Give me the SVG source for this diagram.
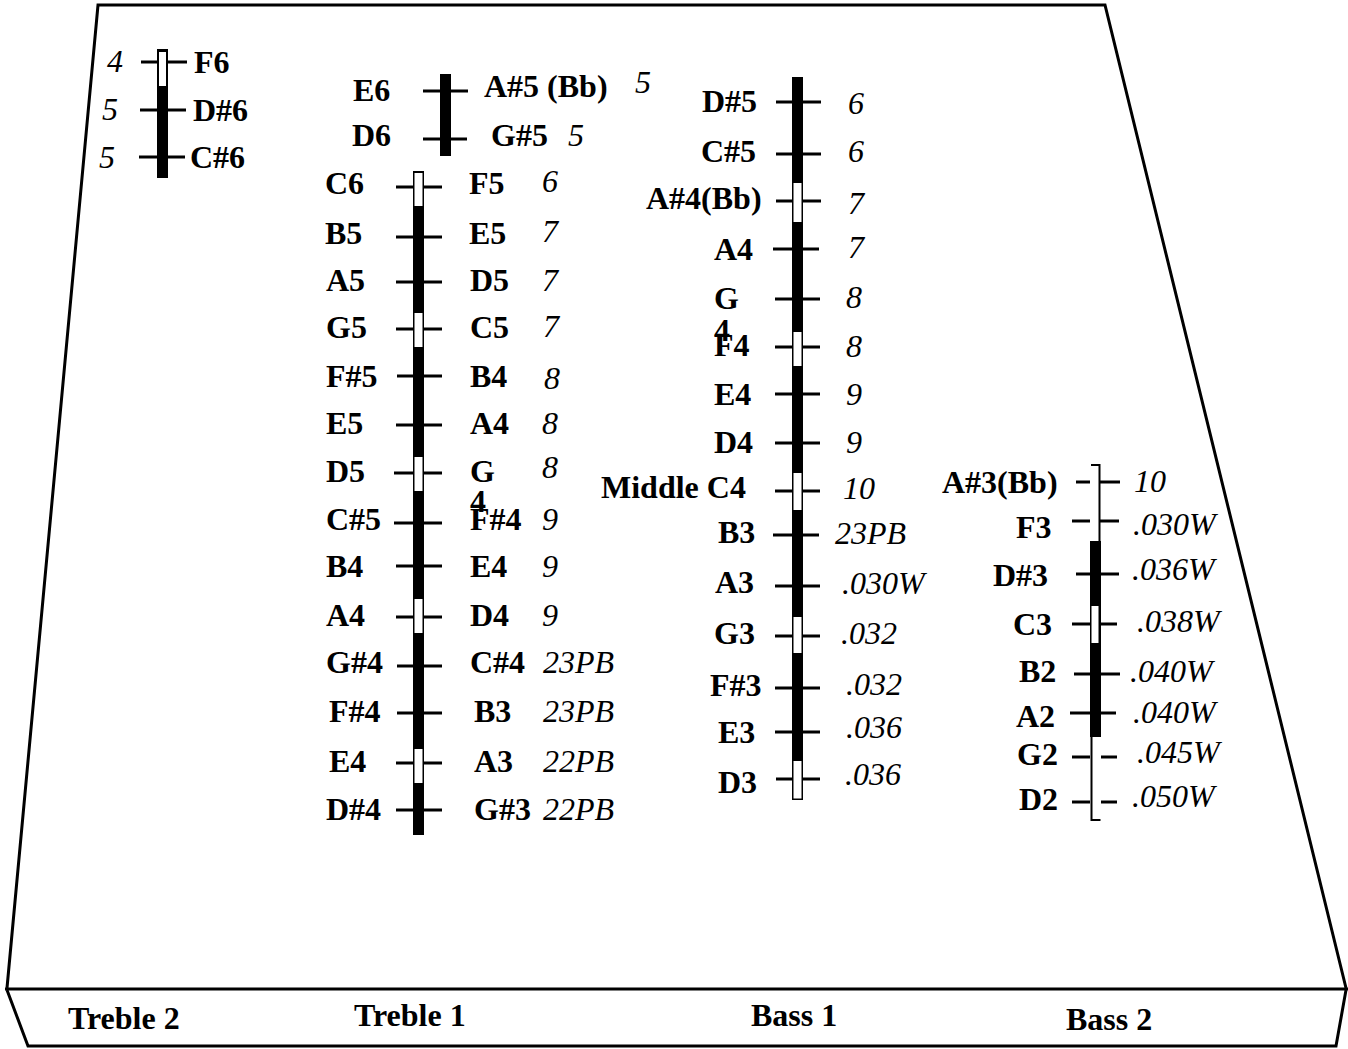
<svg xmlns="http://www.w3.org/2000/svg" width="1348" height="1049" viewBox="0 0 1348 1049">
<style>
.n{font-family:"Liberation Serif",serif;font-weight:bold;font-size:32px;fill:#000}
.g{font-family:"Liberation Serif",serif;font-style:italic;font-size:32px;fill:#000}
.t{stroke:#000;stroke-width:3;fill:none}
.f{stroke:#000;stroke-width:3;fill:none;stroke-linejoin:miter}
.thin{stroke:#000;stroke-width:2;fill:none}
.b{fill:#000}
.w{fill:#fff}
</style>
<rect width="1348" height="1049" fill="#fff"/>
<g id="frame">
<polyline class="f" points="7,988 98,5 1105,5 1346,988"/>
<line class="f" x1="5" y1="989" x2="1348" y2="989"/>
<polyline class="f" points="7,990 28,1046 1336,1046 1346,990"/>
<text class="n" x="68" y="1029">Treble 2</text>
<text class="n" x="354" y="1026">Treble 1</text>
<text class="n" x="751" y="1026">Bass 1</text>
<text class="n" x="1066" y="1030">Bass 2</text>
</g>
<g id="connectors">
<g id="t2-ticks">
<line class="t" x1="141" y1="62" x2="187" y2="62"/>
<line class="t" x1="140" y1="110" x2="186" y2="110"/>
<line class="t" x1="139" y1="157" x2="185" y2="157"/>
</g>
<g id="t1top-ticks">
<line class="t" x1="423" y1="91" x2="468" y2="91"/>
<line class="t" x1="423" y1="139" x2="467" y2="139"/>
</g>
<g id="t1-ticks">
<line class="t" x1="396" y1="187" x2="442" y2="187"/>
<line class="t" x1="396" y1="237" x2="442" y2="237"/>
<line class="t" x1="396" y1="282" x2="442" y2="282"/>
<line class="t" x1="396" y1="329" x2="442" y2="329"/>
<line class="t" x1="397" y1="376" x2="442" y2="376"/>
<line class="t" x1="396" y1="425" x2="442" y2="425"/>
<line class="t" x1="394" y1="473" x2="442" y2="473"/>
<line class="t" x1="394" y1="523" x2="442" y2="523"/>
<line class="t" x1="396" y1="566" x2="442" y2="566"/>
<line class="t" x1="396" y1="617" x2="442" y2="617"/>
<line class="t" x1="397" y1="666" x2="442" y2="666"/>
<line class="t" x1="397" y1="713" x2="442" y2="713"/>
<line class="t" x1="396" y1="763" x2="442" y2="763"/>
<line class="t" x1="396" y1="810" x2="442" y2="810"/>
</g>
<g id="b1-ticks">
<line class="t" x1="776" y1="102" x2="821" y2="102"/>
<line class="t" x1="776" y1="154" x2="821" y2="154"/>
<line class="t" x1="776" y1="201" x2="821" y2="201"/>
<line class="t" x1="773" y1="249" x2="819" y2="249"/>
<line class="t" x1="775" y1="299" x2="820" y2="299"/>
<line class="t" x1="775" y1="347" x2="820" y2="347"/>
<line class="t" x1="775" y1="394" x2="820" y2="394"/>
<line class="t" x1="775" y1="443" x2="820" y2="443"/>
<line class="t" x1="775" y1="491" x2="820" y2="491"/>
<line class="t" x1="773" y1="535" x2="819" y2="535"/>
<line class="t" x1="775" y1="586" x2="820" y2="586"/>
<line class="t" x1="775" y1="636" x2="820" y2="636"/>
<line class="t" x1="775" y1="688" x2="820" y2="688"/>
<line class="t" x1="775" y1="732" x2="820" y2="732"/>
<line class="t" x1="776" y1="779" x2="820" y2="779"/>
</g>
<g id="b2-ticks">
<line class="t" x1="1076" y1="482" x2="1090" y2="482"/>
<line class="t" x1="1100" y1="482" x2="1120" y2="482"/>
<line class="t" x1="1072" y1="521" x2="1090" y2="521"/>
<line class="t" x1="1100" y1="521" x2="1119" y2="521"/>
<line class="t" x1="1076" y1="574" x2="1119" y2="574"/>
<line class="t" x1="1072" y1="624" x2="1117" y2="624"/>
<line class="t" x1="1074" y1="674" x2="1120" y2="674"/>
<line class="t" x1="1070" y1="713" x2="1116" y2="713"/>
<line class="t" x1="1072" y1="757" x2="1090" y2="757"/>
<line class="t" x1="1101" y1="757" x2="1117" y2="757"/>
<line class="t" x1="1072" y1="802" x2="1090" y2="802"/>
<line class="t" x1="1101" y1="802" x2="1117" y2="802"/>
</g>
</g>
<g id="treble2">
<rect class="b" x="157" y="49" width="11" height="129"/>
<rect class="w" x="159" y="52" width="7" height="34"/>
<text class="g" x="107" y="72">4</text>
<text class="g" x="102" y="120">5</text>
<text class="g" x="99" y="168">5</text>
<text class="n" x="194" y="73">F6</text>
<text class="n" x="193" y="121">D#6</text>
<text class="n" x="190" y="168">C#6</text>
</g>
<g id="treble1-top">
<rect class="b" x="440" y="74" width="11" height="82"/>
<text class="n" x="353" y="101">E6</text>
<text class="n" x="352" y="146">D6</text>
<text class="n" x="484" y="97">A#5 (Bb)</text>
<text class="g" x="635" y="93">5</text>
<text class="n" x="491" y="146">G#5</text>
<text class="g" x="568" y="146">5</text>
</g>
<g id="treble1">
<rect class="b" x="413" y="171" width="11" height="664"/>
<rect class="w" x="414.5" y="173" width="8" height="33"/>
<rect class="w" x="414.5" y="313" width="8" height="34"/>
<rect class="w" x="414.5" y="457" width="8" height="34"/>
<rect class="w" x="414.5" y="599" width="8" height="34"/>
<rect class="w" x="414.5" y="749" width="8" height="34"/>
<text class="n" x="325" y="194">C6</text>
<text class="n" x="325" y="244">B5</text>
<text class="n" x="326" y="291">A5</text>
<text class="n" x="326" y="338">G5</text>
<text class="n" x="326" y="387">F#5</text>
<text class="n" x="326" y="434">E5</text>
<text class="n" x="326" y="482">D5</text>
<text class="n" x="326" y="530">C#5</text>
<text class="n" x="326" y="577">B4</text>
<text class="n" x="326" y="626">A4</text>
<text class="n" x="326" y="673">G#4</text>
<text class="n" x="329" y="722">F#4</text>
<text class="n" x="329" y="772">E4</text>
<text class="n" x="326" y="820">D#4</text>
<text class="n" x="469" y="194">F5</text>
<text class="n" x="469" y="244">E5</text>
<text class="n" x="470" y="291">D5</text>
<text class="n" x="470" y="338">C5</text>
<text class="n" x="470" y="387">B4</text>
<text class="n" x="470" y="434">A4</text>
<text class="n" x="470" y="482">G</text>
<text class="n" x="470" y="512">4</text>
<text class="n" x="470" y="530">F#4</text>
<text class="n" x="470" y="577">E4</text>
<text class="n" x="470" y="626">D4</text>
<text class="n" x="470" y="673">C#4</text>
<text class="n" x="474" y="722">B3</text>
<text class="n" x="474" y="772">A3</text>
<text class="n" x="474" y="820">G#3</text>
<text class="g" x="542" y="192">6</text>
<text class="g" x="542" y="242">7</text>
<text class="g" x="542" y="291">7</text>
<text class="g" x="543" y="337">7</text>
<text class="g" x="544" y="389">8</text>
<text class="g" x="542" y="434">8</text>
<text class="g" x="542" y="478">8</text>
<text class="g" x="542" y="530">9</text>
<text class="g" x="542" y="577">9</text>
<text class="g" x="542" y="626">9</text>
<text class="g" x="543" y="673">23PB</text>
<text class="g" x="543" y="722">23PB</text>
<text class="g" x="543" y="772">22PB</text>
<text class="g" x="543" y="820">22PB</text>
</g>
<g id="bass1">
<rect class="b" x="792" y="77" width="11" height="723"/>
<rect class="w" x="793.5" y="183" width="8" height="39"/>
<rect class="w" x="793.5" y="332" width="8" height="34"/>
<rect class="w" x="793.5" y="473" width="8" height="37"/>
<rect class="w" x="793.5" y="617" width="8" height="36"/>
<rect class="w" x="793.5" y="761" width="8" height="37.5"/>
<text class="n" x="702" y="112">D#5</text>
<text class="n" x="701" y="162">C#5</text>
<text class="n" x="646" y="209">A#4(Bb)</text>
<text class="n" x="714" y="260">A4</text>
<text class="n" x="714" y="309">G</text>
<text class="n" x="714" y="341">4</text>
<text class="n" x="714" y="356">F4</text>
<text class="n" x="714" y="405">E4</text>
<text class="n" x="714" y="453">D4</text>
<text class="n" x="601" y="498">Middle C4</text>
<text class="n" x="718" y="543">B3</text>
<text class="n" x="715" y="593">A3</text>
<text class="n" x="714" y="644">G3</text>
<text class="n" x="710" y="696">F#3</text>
<text class="n" x="718" y="743">E3</text>
<text class="n" x="718" y="793">D3</text>
<text class="g" x="848" y="114">6</text>
<text class="g" x="848" y="162">6</text>
<text class="g" x="848" y="214">7</text>
<text class="g" x="848" y="258">7</text>
<text class="g" x="846" y="308">8</text>
<text class="g" x="846" y="357">8</text>
<text class="g" x="846" y="405">9</text>
<text class="g" x="846" y="453">9</text>
<text class="g" x="843" y="499">10</text>
<text class="g" x="835" y="544">23PB</text>
<text class="g" x="842" y="594">.030W</text>
<text class="g" x="841" y="644">.032</text>
<text class="g" x="846" y="695">.032</text>
<text class="g" x="846" y="738">.036</text>
<text class="g" x="845" y="785">.036</text>
</g>
<g id="bass2">
<polyline class="thin" points="1091,465 1099.5,465 1099.5,541"/>
<rect class="b" x="1090" y="541" width="11" height="196"/>
<rect class="w" x="1091.5" y="606" width="7" height="37"/>
<polyline class="thin" points="1091.5,737 1091.5,820 1100.5,820"/>
<text class="n" x="942" y="493">A#3(Bb)</text>
<text class="n" x="1016" y="538">F3</text>
<text class="n" x="993" y="586">D#3</text>
<text class="n" x="1013" y="635">C3</text>
<text class="n" x="1019" y="682">B2</text>
<text class="n" x="1016" y="727">A2</text>
<text class="n" x="1017" y="765">G2</text>
<text class="n" x="1019" y="810">D2</text>
<text class="g" x="1134" y="492">10</text>
<text class="g" x="1133" y="535">.030W</text>
<text class="g" x="1132" y="580">.036W</text>
<text class="g" x="1137" y="632">.038W</text>
<text class="g" x="1130" y="682">.040W</text>
<text class="g" x="1133" y="723">.040W</text>
<text class="g" x="1137" y="763">.045W</text>
<text class="g" x="1132" y="807">.050W</text>
</g>
</svg>
